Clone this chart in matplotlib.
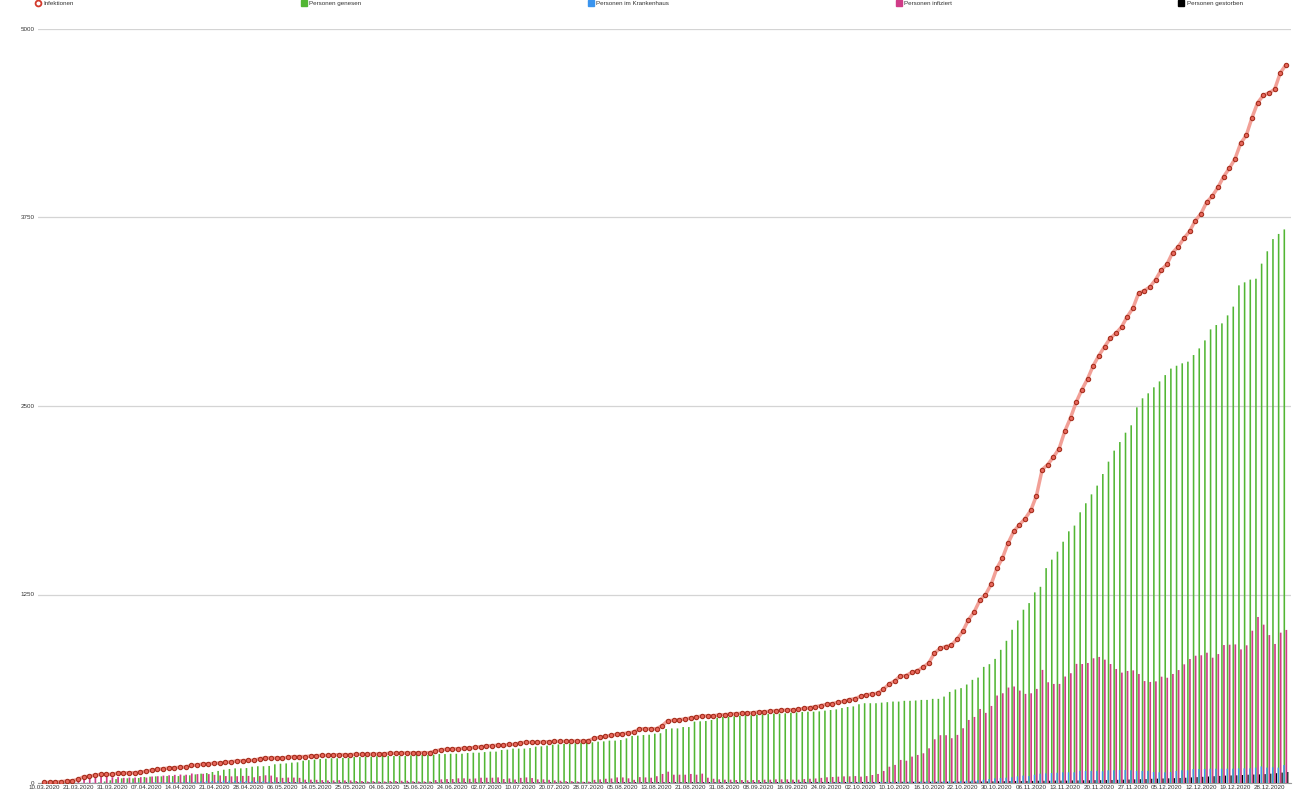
import numpy as np
import matplotlib
matplotlib.use('Agg')
import matplotlib.pyplot as plt
from matplotlib.lines import Line2D

plt.rcParams['font.family'] = ['Liberation Sans', 'DejaVu Sans']

# Datumsbeschriftung (jede 6. Meldung)
tick_labels = ['10.03.2020', '21.03.2020', '31.03.2020', '07.04.2020', '14.04.2020',
               '21.04.2020', '28.04.2020', '06.05.2020', '14.05.2020', '25.05.2020',
               '04.06.2020', '15.06.2020', '24.06.2020', '02.07.2020', '10.07.2020',
               '20.07.2020', '28.07.2020', '05.08.2020', '13.08.2020', '21.08.2020',
               '31.08.2020', '08.09.2020', '16.09.2020', '24.09.2020', '02.10.2020',
               '10.10.2020', '16.10.2020', '22.10.2020', '30.10.2020', '06.11.2020',
               '13.11.2020', '20.11.2020', '27.11.2020', '05.12.2020', '12.12.2020',
               '19.12.2020', '28.12.2020']
label_step = 6

infektionen = [
    4, 4, 7, 9, 13, 15, 24, 42, 44, 53,
    57, 57, 57, 66, 66, 68, 68, 73, 77, 86,
    90, 95, 99, 102, 104, 106, 117, 119, 126, 128,
    130, 133, 137, 141, 146, 148, 150, 150, 161, 166,
    166, 166, 166, 170, 175, 175, 175, 179, 181, 183,
    183, 186, 188, 188, 188, 190, 190, 190, 192, 192,
    194, 197, 197, 199, 199, 199, 201, 201, 201, 212,
    221, 223,
    225, 228, 230, 232, 236, 241, 245, 248, 250, 250,
    256, 256, 267, 270, 270, 270, 272, 274, 276, 276,
    276, 278, 278, 278, 281, 296, 303, 309, 316, 323,
    327, 332, 338, 358, 360, 360, 360, 380, 413, 415,
    420, 424, 431, 438, 444, 446, 446, 451, 453, 457,
    460, 462, 464, 466, 471, 473, 475, 480, 482, 484,
    486, 488, 495, 499, 506, 513, 522, 526, 535, 541,
    553, 559, 575,
    584, 591, 595, 622, 655, 677, 710, 712, 733, 744,
    768, 795, 861, 892, 905, 914, 954, 1005, 1082, 1133,
    1211, 1248, 1317, 1423, 1492, 1591, 1669, 1713, 1753, 1808,
    1906, 2078, 2112, 2162, 2218, 2333, 2421, 2525,
    2608, 2679, 2767, 2834, 2893, 2949, 2982, 3024, 3092, 3148,
    3247, 3265, 3289, 3338, 3402, 3439, 3517, 3557, 3612, 3658,
    3729, 3775, 3851, 3892, 3950, 4021, 4076, 4138, 4242, 4295,
    4412, 4511, 4560, 4576, 4600, 4710, 4763]

genesen = [
    0, 0, 0, 0, 0, 0, 0, 0, 0, 0,
    4, 10, 18, 26, 31, 31, 31, 33, 40, 42,
    44, 44, 46, 46, 46, 49, 51, 57, 62, 66,
    73, 80, 88, 93, 97, 97, 99, 108, 111, 111,
    113, 124, 128, 130, 135, 137, 148, 152, 155, 159,
    161, 164, 164, 166, 166, 172, 172, 175, 175, 177,
    179, 179, 179, 179, 179, 183, 186, 186, 186, 188,
    192, 192,
    194, 194, 194, 199, 201, 201, 205, 208, 208, 219,
    221, 228, 228, 228, 232, 241, 243, 248, 254, 256,
    259, 261, 263, 265, 267, 270, 274, 276, 281, 281,
    285, 296, 312, 314, 318, 320, 327, 330, 358, 362,
    362, 371, 371, 407, 409, 411, 418, 433, 438, 438,
    442, 446, 449, 449, 453, 455, 457, 460, 460, 462,
    466, 468, 471, 473, 473, 475, 480, 484, 488, 497,
    504, 508, 522,
    529, 529, 529, 533, 536, 540, 540, 545, 545, 547,
    551, 551, 558, 558, 573, 604, 620, 629, 653, 684,
    699, 770, 788, 823, 883, 943, 1016, 1078, 1149, 1193,
    1264, 1301, 1425, 1481, 1534, 1600, 1669, 1707, 1795,
    1855, 1914, 1972, 2049, 2131, 2204, 2261, 2323, 2372,
    2491, 2551, 2584, 2624, 2663, 2705, 2748, 2767, 2783, 2794,
    2838, 2882, 2935, 3008, 3037, 3048, 3101, 3159, 3300, 3320,
    3338, 3344, 3444, 3526, 3607, 3641, 3671]

krankenhaus = [
    0, 0, 0, 0, 0, 0, 1, 1, 2, 2,
    2, 3, 3, 3, 4, 4, 4, 5, 5, 5,
    6, 6, 6, 7, 7,
    8, 9, 10, 11, 12, 13, 14, 15, 15, 14,
    14, 13, 12, 12, 11, 10, 9, 8, 7, 6,
    6,
    5, 5, 4, 4, 4, 3, 3, 3, 3, 2,
    2, 2, 2, 2, 2, 2, 2, 2, 2, 2,
    2, 2, 2, 2, 2, 2, 2, 2, 2, 2,
    2, 2, 2, 2, 2, 2, 2, 2, 2, 2,
    2, 2, 2, 2, 2, 2, 2, 2, 2, 2,
    2, 2, 2, 2, 2,
    3, 3, 3, 3, 3, 3, 3, 3, 3, 3,
    3, 3, 3, 3, 3, 4, 4, 4, 4, 4,
    4, 4, 4, 4, 4, 4, 4, 4, 4, 4,
    4, 4, 5, 5, 5, 5, 5, 5, 6, 6,
    6, 6, 7,
    6, 6, 7, 7, 8, 8, 9, 9, 9, 10,
    10, 10, 11, 11, 11, 12, 12, 13, 14, 15,
    17, 19, 22, 26, 31, 33, 35, 38, 44, 49,
    46, 55, 62, 64, 66, 68, 71, 71, 71, 80,
    80, 80, 80, 78, 84, 84, 86, 86, 84, 80,
    80, 80, 73, 71, 71, 73, 80, 84, 84, 93,
    93, 93, 95, 95, 95, 95, 95, 97, 97, 97,
    102, 110, 102, 104, 102, 119]

infiziert = [
    4, 4, 6, 8, 12, 14, 22, 38, 40, 48,
    52, 46, 38, 39, 34, 36, 36, 39, 36, 43,
    45, 49, 51, 54, 56, 55, 63, 59, 61, 59,
    54, 50, 46, 44, 45, 47, 47, 38, 46, 51,
    49, 38, 34, 36, 36, 34, 22, 22, 21, 19,
    17, 17, 19, 17, 17, 13, 13, 10, 12, 10,
    10, 13, 13, 15, 15, 11, 10, 10, 10, 19,
    24, 26,
    26, 31, 31, 28, 30, 35, 35, 35, 37, 26,
    30, 23, 34, 37, 33, 24, 24, 21, 17, 15,
    12, 12, 10, 8, 9, 21, 24, 28, 30, 37,
    37, 31, 21, 39, 37, 35,
    45, 60, 75, 55, 55, 55, 60, 55, 62, 35,
    28, 24, 22, 22, 20, 20, 18, 20, 20, 22,
    22, 24, 24, 24, 22, 22, 26, 28, 30, 34,
    38, 40, 42, 44, 44, 46,
    42, 46, 53, 60, 80, 108, 120, 153, 148, 175,
    186, 197, 230, 290, 317, 317, 297, 319, 363, 418,
    438, 491, 465, 511, 580, 595, 633, 640, 613, 591,
    595, 624, 750, 668, 657, 657, 706, 728, 790,
    789, 796, 827, 836, 818, 789, 756, 732, 743, 747,
    723, 676, 670, 674, 705, 698, 723, 749, 787, 822,
    844, 847, 864, 831, 855, 915, 917, 919, 886, 913,
    1010, 1101, 1050, 981, 922, 997, 1015]

gestorben = [
    0, 0, 0, 0, 0, 0, 0, 0, 0, 0,
    0, 0, 0, 0, 0,
    1, 1, 1, 1, 2, 2, 2, 2, 2, 3,
    3, 3, 3, 3, 3, 3,
    4, 4, 4, 4, 4, 4, 4, 4, 4, 4,
    5, 5, 5, 5, 5, 5, 5, 5, 5, 5,
    5, 5, 5, 5, 5, 5, 5, 5, 5, 5,
    5, 5, 5, 5, 5, 5, 5, 5, 5, 5,
    5, 5, 5, 5, 5, 5, 5, 5, 5, 5,
    5, 5, 5, 5, 5, 5, 5, 5, 5, 5,
    5, 5, 5, 5, 5, 5, 5, 5, 5, 5,
    6, 6, 6, 6, 6, 6, 6, 6, 6, 6,
    6, 6, 6, 6, 6, 6, 6, 6, 6, 6,
    6, 6, 6, 6, 6, 6, 6, 6, 6, 6,
    7, 7, 7, 7, 7, 7, 7, 7, 7, 7,
    7, 7, 7,
    7, 7, 7, 7, 7, 7, 7, 8, 8, 8,
    8, 8, 8, 8, 8, 9, 9, 9, 9, 10,
    10, 10, 11, 11, 12, 12, 13, 13, 13, 14,
    14, 15, 15, 15, 16, 16, 16, 17, 17, 18,
    18, 19, 19, 20, 20, 21, 22, 23, 24, 25,
    26, 28, 29, 30, 31, 32, 33, 35, 37, 39,
    41, 43, 45, 47, 49, 50, 51, 53, 55, 56,
    57, 59, 62, 65, 69, 73]

farbe_inf = '#f2a097'
farbe_gen = '#52b634'
farbe_kh = '#3a94ee'
farbe_ifz = '#d03c88'
farbe_tot = '#000000'

fig = plt.figure(figsize=(13, 7.93), dpi=100)
ax = fig.add_axes([38 / 1300, 10 / 793, 1253 / 1300, 754 / 793])

n = len(infektionen)
# grün und blau fast an gleicher Stelle, rosa/schwarz rechts daneben
ax.bar(np.arange(len(genesen)) - 0.30, genesen, width=0.28, color=farbe_gen,
       linewidth=0, zorder=2, snap=False)
ax.bar(np.arange(len(krankenhaus)) - 0.36, krankenhaus, width=0.24, color=farbe_kh,
       linewidth=0, zorder=2.1, snap=False)
ax.bar(np.arange(len(infiziert)) + 0.06, infiziert, width=0.3, color=farbe_ifz,
       linewidth=0, zorder=2, snap=False)
ax.bar(np.arange(len(gestorben)) + 0.32, gestorben, width=0.2, color=farbe_tot,
       linewidth=0, zorder=2.1, snap=False)

ax.plot(np.arange(n), infektionen, color=farbe_inf, lw=2.5, solid_capstyle='round', zorder=3)
ax.plot(np.arange(n), infektionen, ls='none', marker='o', ms=3.1, mfc='#e8675c',
        mec='#a5301f', mew=0.8, zorder=4)

ax.set_xlim(-1.06, n - 1 + 0.88)
ax.set_ylim(0, 5000)
ax.set_yticks([0, 1250, 2500, 3750, 5000])
ax.set_xticks(np.arange(0, len(tick_labels) * label_step, label_step))
ax.set_xticklabels(tick_labels)
ax.tick_params(axis='both', length=0, labelsize=4.5, labelcolor='#333333')
ax.tick_params(axis='x', pad=1.5)
ax.tick_params(axis='y', pad=2.5)

ax.yaxis.grid(True, color='#d4d4d4', lw=0.9)
ax.set_axisbelow(True)
for s in ['top', 'right', 'left']:
    ax.spines[s].set_visible(False)
ax.spines['bottom'].set_color('#9a9a9a')
ax.spines['bottom'].set_linewidth(0.8)
ax.spines['bottom'].set_zorder(1)

handles = [
    Line2D([], [], ls='none', marker='o', ms=4.2, mfc='white', mec='#d23a2c', mew=1.3),
    Line2D([], [], ls='none', marker='s', ms=4.4, color=farbe_gen),
    Line2D([], [], ls='none', marker='s', ms=4.4, color=farbe_kh),
    Line2D([], [], ls='none', marker='s', ms=4.4, color=farbe_ifz),
    Line2D([], [], ls='none', marker='s', ms=4.4, color='black'),
]
names = ['Infektionen', 'Personen genesen', 'Personen im Krankenhaus',
         'Personen infiziert', 'Personen gestorben']
fig.legend(handles, names, loc='upper left', bbox_to_anchor=(35 / 1300, 1 - 1 / 793),
           ncol=5, frameon=False, fontsize=4.5, handlelength=1.0, handletextpad=0.4,
           columnspacing=36.2, borderpad=0, borderaxespad=0, labelcolor='#333333')

fig.savefig('out.png', dpi=100)
